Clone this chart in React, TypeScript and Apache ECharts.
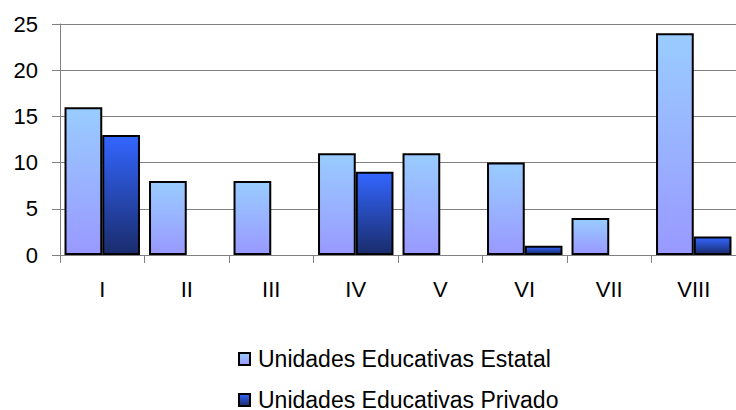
import React, { useEffect, useRef } from "react";
import * as echarts from "echarts";

const categories = ["I", "II", "III", "IV", "V", "VI", "VII", "VIII"];
const estatal = [16, 8, 8, 11, 11, 10, 4, 24];
const privado = [13, 0, 0, 9, 0, 1, 0, 2];
const seriesNames = ["Unidades Educativas Estatal", "Unidades Educativas Privado"];

const FONT = "'Liberation Sans', Arial, sans-serif";

const toData = (arr: number[]) =>
  arr.map((v) => (v === 0 ? { value: v, itemStyle: { borderWidth: 0 } } : v));

export default function App() {
  const ref = useRef<HTMLDivElement>(null);
  useEffect(() => {
    if (!ref.current) return;
    const chart = echarts.init(ref.current, null, { renderer: "svg" });
    const grad = (top: string, bottom: string) =>
      new echarts.graphic.LinearGradient(0, 0, 0, 1, [
        { offset: 0, color: top },
        { offset: 1, color: bottom },
      ]);
    chart.setOption({
      animation: false,
      textStyle: { fontFamily: FONT },
      grid: { left: 60, top: 24, bottom: 155, right: -5, containLabel: false },
      legend: {
        orient: "vertical",
        left: 233,
        top: 342,
        width: 480,
        height: 90,
        itemWidth: 11,
        itemHeight: 12,
        itemGap: 17,
        icon: "rect",
        textStyle: {
          fontFamily: FONT,
          fontSize: 23,
          color: "#000",
          lineHeight: 24,
          padding: [0, 0, 0, 3],
        },
        data: seriesNames,
      },
      xAxis: {
        type: "category",
        data: categories,
        axisLine: { show: true, lineStyle: { color: "#808080", width: 1 } },
        axisTick: { show: true, length: 8, alignWithLabel: false, lineStyle: { color: "#808080" } },
        axisLabel: { margin: 23, fontSize: 22, color: "#000", fontFamily: FONT },
        splitLine: { show: false },
      },
      yAxis: {
        type: "value",
        min: 0,
        max: 25,
        interval: 5,
        axisLine: { show: true, lineStyle: { color: "#808080", width: 1 } },
        axisTick: { show: true, length: 8, lineStyle: { color: "#808080" } },
        axisLabel: { margin: 22, fontSize: 22, color: "#000", fontFamily: FONT },
        splitLine: { show: true, lineStyle: { color: "#808080", width: 1 } },
      },
      series: [
        {
          name: seriesNames[0],
          type: "bar",
          data: toData(estatal),
          barGap: "0%",
          barCategoryGap: "10.7%",
          itemStyle: { color: grad("#99CCFF", "#9999FF"), borderColor: "#000", borderWidth: 2 },
        },
        {
          name: seriesNames[1],
          type: "bar",
          data: toData(privado),
          barGap: "0%",
          barCategoryGap: "10.7%",
          itemStyle: { color: grad("#3366FF", "#1A2C6C"), borderColor: "#000", borderWidth: 2 },
        },
      ],
    });
    return () => chart.dispose();
  }, []);
  return (
    <div
      ref={ref}
      style={{ position: "absolute", left: 0, top: 0, width: 736, height: 410, background: "#fff" }}
    />
  );
}
